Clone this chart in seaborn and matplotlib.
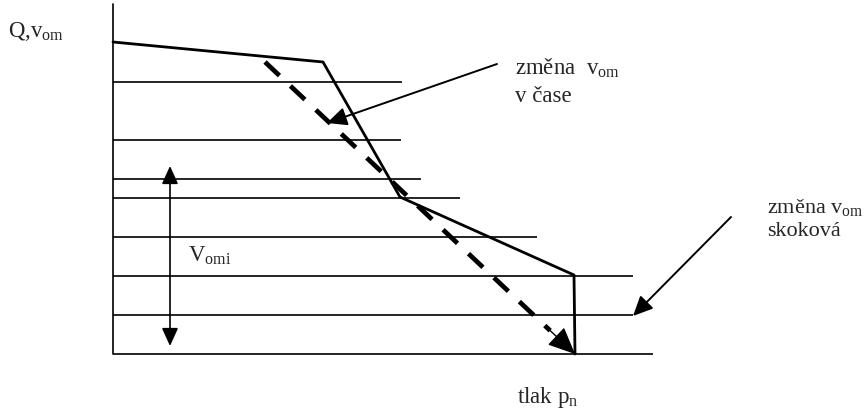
import matplotlib
matplotlib.use("Agg")
import matplotlib.pyplot as plt
import seaborn as sns
import pandas as pd

# ---- data (diagram units: x = pressure, y = Q / v_om) ----
level_y = [272, 214, 175, 156, 117, 78, 39, 0]
level_end = [289, 288, 308, 347, 424, 520, 520, 540]

curve_x = [0, 210, 287, 461, 462]
curve_y = [312, 292, 157, 79, 0]

dash_x = [152, 462]
dash_y = [292, 0]

axis_top = 350

arrow_time = [(384, 290), (214, 231)]
arrow_jump = [(618, 137), (520, 38)]
vomi_x = 57
vomi_range = [188, 8]

sns.set_style("white")
plt.rcParams["font.family"] = ["Liberation Serif", "DejaVu Serif"]
plt.rcParams["mathtext.fontset"] = "custom"
plt.rcParams["mathtext.rm"] = "Liberation Serif"
plt.rcParams["mathtext.it"] = "Liberation Serif:italic"

fig = plt.figure(figsize=(8.65, 4.14), dpi=100)
ax = fig.add_axes([0, 0, 1, 1])
ax.set_xlim(-113, 752)
ax.set_ylim(-59, 355)
ax.axis("off")

# vertical axis
ax.plot([0, 0], [0, axis_top], color="black", lw=1.2)
# horizontal levels
ax.hlines(level_y, 0, level_end, color="black", lw=1.2)

# solid characteristic
df = pd.DataFrame({"x": curve_x, "y": curve_y})
sns.lineplot(data=df, x="x", y="y", sort=False, color="black", lw=2.0, ax=ax)

# dashed line with arrow head
frac = 0.92
ex = dash_x[0] + (dash_x[1] - dash_x[0]) * frac
ey = dash_y[0] + (dash_y[1] - dash_y[0]) * frac
ax.plot([dash_x[0], ex], [dash_y[0], ey], color="black", lw=3.4,
        dashes=(4.2, 3.2))
ax.annotate("", xy=(dash_x[1], dash_y[1]), xytext=(ex, ey),
            arrowprops=dict(arrowstyle="-|>,head_length=0.85,head_width=0.38",
                            mutation_scale=20, lw=1, color="black",
                            shrinkA=0, shrinkB=0))

# annotation arrows
for (x0, y0), (x1, y1) in [arrow_time, arrow_jump]:
    ax.annotate("", xy=(x1, y1), xytext=(x0, y0),
                arrowprops=dict(arrowstyle="-|>,head_length=0.6,head_width=0.28",
                                mutation_scale=20, lw=1.4,
                                color="black", shrinkA=0, shrinkB=0))

# double arrow V_omi
ax.annotate("", xy=(vomi_x, vomi_range[0]), xytext=(vomi_x, vomi_range[1]),
            arrowprops=dict(arrowstyle="<|-|>,head_length=0.55,head_width=0.25",
                            mutation_scale=20, lw=1.2,
                            color="black", shrinkA=0, shrinkB=0))

fs = 16.5
ax.text(-105, 318, r"Q,v$_{\mathrm{om}}$", fontsize=fs, va="baseline")
ax.text(402, 280, r"změna  v$_{\mathrm{om}}$", fontsize=fs, va="baseline")
ax.text(402, 253, "v čase", fontsize=fs, va="baseline")
ax.text(75, 93, r"V$_{\mathrm{omi}}$", fontsize=fs, va="baseline")
ax.text(404, -48, r"tlak p$_{\mathrm{n}}$", fontsize=fs, va="baseline")
ax.text(654, 142, r"změna v$_{\mathrm{om}}$", fontsize=16, va="baseline")
ax.text(654, 119, "skoková", fontsize=16, va="baseline")

fig.savefig("out.png", dpi=100)
